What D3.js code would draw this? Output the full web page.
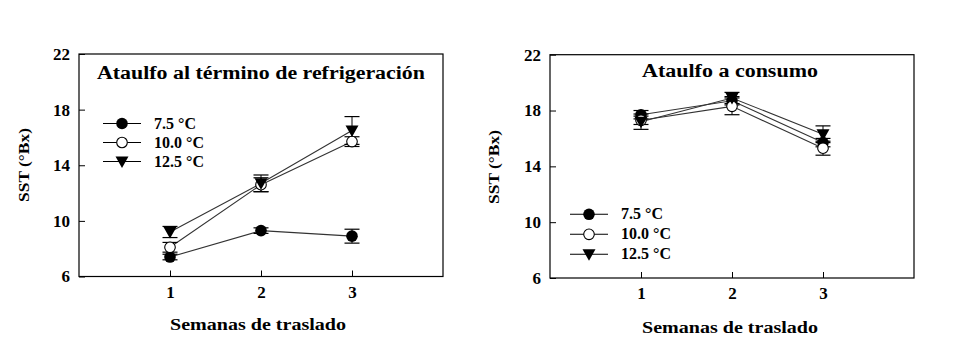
<!DOCTYPE html>
<html><head><meta charset="utf-8">
<script src="https://cdn.jsdelivr.net/npm/d3@7"></script>
<style>
body{margin:0;background:#fff;}
text{font-family:"Liberation Serif","Times New Roman",serif;font-weight:bold;fill:#000;}
</style></head>
<body><svg id="c" width="975" height="359"></svg>
<script>
const weeks = [1, 2, 3];
const xTicks = [1, 2, 3];
const yTicks = [6, 10, 14, 18, 22];
const seriesNames = ["7.5 °C", "10.0 °C", "12.5 °C"];
const seriesSymbols = ["filled", "open", "triangle"];

// Panel 1: Ataulfo al término de refrigeración
const leftTitle = "Ataulfo al término de refrigeración";
const left75 = [7.4, 9.3, 8.9];
const left75Err = [0.2, 0.2, 0.5];
const left10 = [8.1, 12.6, 15.7];
const left10Err = [0.35, 0.5, 0.35];
const left125 = [9.2, 12.7, 16.5];
const left125Err = [0.4, 0.6, 1.0];

// Panel 2: Ataulfo a consumo
const rightTitle = "Ataulfo a consumo";
const right75 = [17.7, 18.7, 15.7];
const right75Err = [0.3, 0.3, 0.3];
const right10 = [17.3, 18.3, 15.3];
const right10Err = [0.3, 0.6, 0.5];
const right125 = [17.2, 18.9, 16.3];
const right125Err = [0.55, 0.4, 0.6];

const xLabel = "Semanas de traslado";
const yLabel = "SST (°Bx)";

const svg = d3.select("#c");

function drawPanel(cfg) {
  const x = d3.scaleLinear().domain([0, 4]).range([cfg.x0, cfg.x1]);
  const y = d3.scaleLinear().domain([6, 22]).range([cfg.yb, cfg.yt]);
  const g = svg.append("g");

  g.append("rect").attr("x", cfg.x0).attr("y", cfg.yt)
    .attr("width", cfg.x1 - cfg.x0).attr("height", cfg.yb - cfg.yt)
    .attr("fill", "none").attr("stroke", "#000").attr("stroke-width", 1.2);

  const ya = g.append("g").attr("transform", `translate(${cfg.x0},0)`)
    .call(d3.axisLeft(y).tickValues(yTicks).tickSizeInner(-6).tickSizeOuter(0).tickPadding(9));
  ya.select(".domain").remove();
  ya.selectAll("line").attr("stroke", "#000");
  ya.selectAll("text").style("font-size", "17px").attr("font-family", null);

  const xa = g.append("g").attr("transform", `translate(0,${cfg.yb})`)
    .call(d3.axisBottom(x).tickValues(xTicks).tickFormat(d3.format("d")).tickSizeInner(-6).tickSizeOuter(0).tickPadding(9));
  xa.select(".domain").remove();
  xa.selectAll("line").attr("stroke", "#000");
  xa.selectAll("text").style("font-size", "17px").attr("font-family", null);

  g.append("text").attr("x", cfg.titleX).attr("y", cfg.titleY)
    .attr("textLength", cfg.titleLen).attr("lengthAdjust", "spacingAndGlyphs")
    .style("font-size", "18px").text(cfg.title);

  g.append("text").attr("transform", `translate(${cfg.yLabX},${cfg.yLabY}) rotate(-90)`)
    .attr("text-anchor", "middle").style("font-size", "15px")
    .attr("textLength", 74).attr("lengthAdjust", "spacingAndGlyphs").text(yLabel);
  g.append("text").attr("x", cfg.xLabX).attr("y", cfg.xLabY).attr("text-anchor", "middle")
    .style("font-size", "16px").attr("textLength", 176).attr("lengthAdjust", "spacingAndGlyphs")
    .text(xLabel);

  const line = d3.line().x((d, i) => x(weeks[i])).y(d => y(d));
  cfg.series.forEach(s => {
    g.append("path").attr("d", line(s.v)).attr("fill", "none")
      .attr("stroke", "#333").attr("stroke-width", 1.1);
  });
  cfg.series.forEach(s => {
    s.v.forEach((v, i) => {
      const cx = x(weeks[i]);
      const hi = y(v + s.e[i]), lo = y(v - s.e[i]);
      g.append("line").attr("x1", cx).attr("x2", cx).attr("y1", hi).attr("y2", lo).attr("stroke", "#000");
      [hi, lo].forEach(yy => g.append("line").attr("x1", cx - 7.5).attr("x2", cx + 7.5)
        .attr("y1", yy).attr("y2", yy).attr("stroke", "#000").attr("stroke-width", 1.2));
    });
  });
  cfg.series.forEach(s => {
    s.v.forEach((v, i) => drawSymbol(g, s.sym, x(weeks[i]), y(v)));
  });

  cfg.series.forEach((s, k) => {
    const ly = cfg.legY + k * cfg.legDy;
    g.append("line").attr("x1", cfg.legX).attr("x2", cfg.legX + 38).attr("y1", ly).attr("y2", ly)
      .attr("stroke", "#000").attr("stroke-width", 1.1);
    drawSymbol(g, s.sym, cfg.legX + 19, ly);
    g.append("text").attr("x", cfg.legX + 51).attr("y", ly + 5).style("font-size", "16px")
      .text(s.name);
  });
}

function drawSymbol(g, sym, cx, cy) {
  if (sym === "filled") {
    g.append("circle").attr("cx", cx).attr("cy", cy).attr("r", 5.8).attr("fill", "#000");
  } else if (sym === "open") {
    g.append("circle").attr("cx", cx).attr("cy", cy).attr("r", 5.3).attr("fill", "#fff")
      .attr("stroke", "#000").attr("stroke-width", 1.1);
  } else {
    g.append("path").attr("d", `M${cx - 6.5},${cy - 5}L${cx + 6.5},${cy - 5}L${cx},${cy + 6.5}Z`)
      .attr("fill", "#000");
  }
}

drawPanel({
  x0: 79, x1: 443, yt: 54, yb: 276.5,
  title: leftTitle, titleX: 97, titleY: 79, titleLen: 328,
  yLabX: 29, yLabY: 165, xLabX: 258, xLabY: 330,
  legX: 103, legY: 123.5, legDy: 19,
  series: [
    {name: seriesNames[0], sym: seriesSymbols[0], v: left75, e: left75Err},
    {name: seriesNames[1], sym: seriesSymbols[1], v: left10, e: left10Err},
    {name: seriesNames[2], sym: seriesSymbols[2], v: left125, e: left125Err}
  ]
});

drawPanel({
  x0: 550, x1: 914, yt: 54.7, yb: 278,
  title: rightTitle, titleX: 642, titleY: 77, titleLen: 176,
  yLabX: 499, yLabY: 167, xLabX: 730, xLabY: 333,
  legX: 570, legY: 214.3, legDy: 20,
  series: [
    {name: seriesNames[0], sym: seriesSymbols[0], v: right75, e: right75Err},
    {name: seriesNames[1], sym: seriesSymbols[1], v: right10, e: right10Err},
    {name: seriesNames[2], sym: seriesSymbols[2], v: right125, e: right125Err}
  ]
});
</script></body></html>
